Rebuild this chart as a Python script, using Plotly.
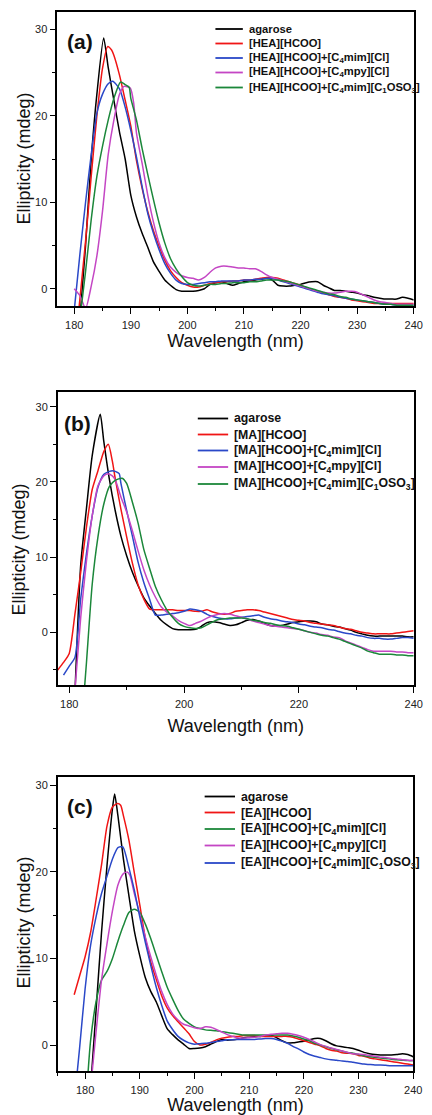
import plotly.graph_objects as go

W, H = 432, 1115

# ---------------- Panel (a) data ----------------
A_AGAROSE_X = [181, 182, 183, 184, 185.2] + list(range(186, 241))
A_AGAROSE_Y = [-3.5, 5, 15, 22.5, 29,
               25.6, 21.8, 18.1, 15.0, 10.8, 8.3, 6.4, 4.8, 3.1, 2.0,
               1.0, 0.4, -0.1, -0.3, -0.3, -0.3, -0.2, 0.0, 0.5, 0.7,
               0.8, 0.6, 0.4, 0.6, 0.8, 0.9, 1.0, 1.1, 1.2, 1.0,
               0.4, 0.3, 0.3, 0.4, 0.5, 0.7, 0.8, 0.8, 0.4, 0.1,
               -0.2, -0.2, -0.3, -0.4, -0.5, -0.7, -0.8, -1.0, -1.1, -1.2,
               -1.2, -1.2, -1.0, -1.1, -1.3]
A_HCOO_X = [180.8, 182, 183, 184, 185, 185.9, 186.6] + list(range(187, 241))
A_HCOO_Y = [-2.5, 5.5, 13, 20, 25.5, 28, 27.6,
            27.0, 24.7, 21.8, 18.8, 14.8, 11.6, 8.9, 6.7, 4.9, 3.3,
            2.1, 1.3, 0.7, 0.4, 0.2, 0.2, 0.4, 0.6, 0.7, 0.8,
            0.8, 0.9, 0.9, 1.0, 1.0, 1.1, 1.2, 1.3, 1.3, 1.2,
            1.0, 0.8, 0.6, 0.4, 0.1, -0.1, -0.3, -0.5, -0.7, -0.9,
            -1.0, -1.1, -1.3, -1.4, -1.5, -1.6, -1.7, -1.7, -1.7, -1.7,
            -1.7, -1.7, -1.7, -1.7]
A_C4MIM_X = [180, 181, 182, 183, 184, 185, 186, 186.8] + list(range(188, 241))
A_C4MIM_Y = [-2.5, 4, 10, 15.5, 20.3, 22.5, 23.7, 24,
             23.1, 21.0, 18.3, 15.2, 11.8, 8.7, 6.4, 4.5, 2.9, 1.8,
             1.0, 0.6, 0.5, 0.5, 0.6, 0.7, 0.8, 0.8, 0.9, 0.9,
             0.9, 0.9, 1.0, 1.0, 1.1, 1.1, 1.2, 1.2, 1.0, 0.8,
             0.6, 0.4, 0.2, 0.0, -0.2, -0.4, -0.6, -0.7, -0.8, -1.0,
             -1.1, -1.2, -1.3, -1.4, -1.5, -1.6, -1.7, -1.8, -1.8, -1.9,
             -1.9, -1.9, -1.9]
A_C4MPY_X = [180, 181, 182, 183, 184, 185, 186, 187, 188, 188.8, 189.9, 190.5] + list(range(191, 241))
A_C4MPY_Y = [0, -0.8, -2.3, 0.3, 3.8, 9, 15.5, 19.5, 22.5, 23.4, 23.2, 21.5,
             18.0, 14.5, 10.8, 7.7, 5.3, 3.6, 2.5, 1.9, 1.5, 1.3,
             1.2, 1.0, 1.3, 1.9, 2.4, 2.6, 2.6, 2.5, 2.4, 2.4,
             2.3, 2.3, 2.0, 1.6, 1.3, 1.1, 0.9, 0.7, 0.5, 0.3,
             0.1, -0.1, -0.3, -0.4, -0.5, -0.5, -0.4, -0.3, -0.3, -0.4,
             -0.7, -1.0, -1.3, -1.5, -1.6, -1.7, -1.8, -1.8, -1.8, -1.8]
A_C1OSO3_X = [181, 182, 183, 184, 185, 186, 187, 188.2, 189, 189.7, 190] + list(range(191, 241))
A_C1OSO3_Y = [-3.5, 2, 8, 13, 16.5, 19.5, 22, 23.9, 23.6, 23.3, 22,
              19.5, 16.2, 13.2, 10.3, 7.6, 5.3, 3.5, 2.3, 1.4, 0.7,
              0.4, 0.3, 0.4, 0.5, 0.5, 0.6, 0.6, 0.7, 0.7, 0.7,
              0.8, 0.8, 0.9, 1.0, 1.0, 1.0, 0.9, 0.8, 0.6, 0.4,
              0.2, 0.0, -0.2, -0.4, -0.6, -0.7, -0.9, -1.0, -1.2, -1.3,
              -1.4, -1.5, -1.6, -1.7, -1.8, -1.8, -1.9, -1.9, -1.9, -1.9]

# ---------------- Panel (b) data ----------------
B_AGAROSE_X = [181, 182, 183, 184, 185.4] + list(range(186, 241))
B_AGAROSE_Y = [-8, 9, 16.5, 23.5, 29,
               25.5, 20.3, 16.2, 12.8, 10.2, 8.0, 6.2, 4.6, 3.5, 2.5,
               1.6, 1.0, 0.5, 0.35, 0.35, 0.35, 0.4, 0.8, 1.3, 1.4,
               1.3, 1.1, 0.9, 1.0, 1.3, 1.6, 1.7, 1.5, 1.2, 0.9,
               0.8, 0.9, 1.1, 1.3, 1.4, 1.5, 1.5, 1.4, 1.1, 1.0,
               0.8, 0.7, 0.5, 0.3, 0.0, -0.2, -0.4, -0.5, -0.5, -0.5,
               -0.5, -0.5, -0.5, -0.6, -0.6]
B_HCOO_X = [178, 179, 180, 181, 182, 183, 184, 185, 186, 186.8, 187.5] + list(range(188, 241))
B_HCOO_Y = [-5, -4, -2.8, 2.5, 8, 14, 19, 21.5, 24, 25, 22.8,
            20.5, 16.4, 12.7, 9.2, 6.3, 4.4, 3.1, 3.0, 3.0, 3.0,
            3.0, 2.9, 2.9, 2.9, 2.8, 2.8, 3.0, 2.7, 2.5, 2.4,
            2.5, 2.8, 2.9, 3.0, 3.0, 2.9, 2.7, 2.5, 2.3, 2.1,
            1.9, 1.7, 1.6, 1.5, 1.3, 1.2, 1.1, 1.0, 0.9, 0.7,
            0.5, 0.4, 0.2, 0.0, -0.1, -0.2, -0.2, -0.2, -0.2, -0.1,
            0.0, 0.1, 0.2]
B_C4MIM_X = [179, 180, 181, 182, 183, 184, 185, 186, 187, 187.5, 188, 188.7] + list(range(189, 241))
B_C4MIM_Y = [-5.7, -4.5, -3.3, 4.5, 10.5, 15.5, 19.3, 21, 21.4, 21.5, 21.4, 21.1,
             19.8, 16.2, 12.8, 9.3, 6.6, 4.4, 2.3, 2.3, 2.4, 2.5,
             2.6, 2.8, 3.1, 3.0, 2.8, 2.4, 2.1, 1.9, 1.8, 1.8,
             1.9, 2.0, 2.1, 2.2, 2.3, 2.0, 1.8, 1.7, 1.5, 1.4,
             1.3, 1.1, 1.0, 0.8, 0.7, 0.6, 0.4, 0.3, 0.1, -0.1,
             -0.2, -0.4, -0.5, -0.7, -0.8, -0.8, -0.9, -0.9, -0.8, -0.7,
             -0.7, -0.8]
B_C4MPY_X = [181, 182, 183, 184, 185, 186, 186.7, 187.5] + list(range(188, 241))
B_C4MPY_Y = [-7.5, 2, 9.5, 15.5, 19.5, 20.8, 21.1, 20.8,
             20.3, 18.0, 16.0, 13.5, 10.8, 8.3, 6.3, 4.7, 3.4, 2.7,
             2.2, 1.6, 1.2, 0.9, 1.2, 1.5, 1.9, 2.2, 2.4, 2.5,
             2.4, 2.2, 2.0, 1.8, 1.5, 1.3, 1.1, 0.9, 0.8, 0.7,
             0.6, 0.5, 0.4, 0.2, 0.0, -0.1, -0.3, -0.4, -0.6, -0.7,
             -1.1, -1.4, -1.7, -2.0, -2.3, -2.5, -2.5, -2.5, -2.5, -2.6,
             -2.6, -2.7, -2.7]
B_C1OSO3_X = [182.5, 183, 184, 185, 186, 187, 188, 189.2, 190] + list(range(191, 241))
B_C1OSO3_Y = [-9, -4, 6.4, 12.7, 17, 19.4, 20.2, 20.5, 19.8,
              17.3, 14.5, 11.0, 8.5, 6.1, 4.4, 3.0, 2.0, 1.2, 0.8,
              0.6, 0.5, 0.6, 1.0, 1.4, 1.7, 1.8, 1.9, 1.9, 1.9,
              1.8, 1.6, 1.5, 1.3, 1.2, 1.0, 0.9, 0.8, 0.6, 0.4,
              0.2, 0.0, -0.2, -0.4, -0.5, -0.7, -0.9, -1.2, -1.5, -1.8,
              -2.1, -2.5, -2.7, -2.9, -2.9, -2.9, -3.0, -3.0, -3.1, -3.1]

# ---------------- Panel (c) data ----------------
C_AGAROSE_X = [181, 182, 183, 184, 185, 185.4, 186, 187] + list(range(188, 241))
C_AGAROSE_Y = [-5, 4, 13, 20.7, 27.3, 29, 26.5, 21.5,
               17.3, 13.2, 10.3, 7.8, 6.2, 5.0, 3.4, 1.9, 1.2, 0.6,
               0.1, -0.4, -0.4, -0.35, -0.2, 0.1, 0.4, 0.65, 0.55, 0.6,
               0.7, 0.85, 0.9, 0.95, 1.0, 1.05, 1.15, 0.85, 0.5, 0.25,
               0.25, 0.35, 0.45, 0.6, 0.75, 0.75, 0.5, 0.15, -0.1, -0.2,
               -0.3, -0.4, -0.6, -0.85, -1.0, -1.1, -1.15, -1.15, -1.15, -1.1,
               -1.0, -1.1, -1.35]
C_HCOO_X = [178, 179, 180, 181, 182, 183, 184, 185, 185.9, 186.5, 187] + list(range(188, 241))
C_HCOO_Y = [5.8, 8, 10.2, 13, 16.8, 20.8, 25.3, 27.5, 27.9, 27.7, 26.5,
            23.7, 19.9, 16.2, 12.4, 9.6, 7.6, 5.7, 4.3, 3.4, 2.7,
            2.0, 1.3, 0.4, 0.0, 0.1, 0.3, 0.6, 0.8, 0.9, 1.0,
            1.0, 1.1, 1.1, 1.1, 1.0, 1.0, 1.0, 1.0, 1.0, 1.0,
            0.9, 0.7, 0.5, 0.3, 0.1, -0.1, -0.4, -0.6, -0.7, -0.9,
            -0.95, -1.0, -1.2, -1.3, -1.5, -1.6, -1.7, -1.8, -1.9, -2.0,
            -2.1, -2.2, -2.3]
C_C4MIM_X = [180.5, 181, 182, 183, 184, 185, 186, 187, 188, 189] + list(range(190, 241))
C_C4MIM_Y = [-3.5, 0.5, 5, 7.5, 8.5, 10, 12, 13.8, 15.3, 15.7,
             15.3, 14.0, 12.3, 10.4, 8.5, 6.7, 5.3, 4.0, 3.0, 2.5,
             2.1, 1.9, 1.75, 1.7, 1.65, 1.55, 1.45, 1.35, 1.25, 1.15,
             1.15, 1.15, 1.15, 1.15, 1.15, 1.15, 1.15, 1.15, 1.05, 0.9,
             0.7, 0.5, 0.2, 0.0, -0.2, -0.4, -0.55, -0.7, -0.85, -0.95,
             -1.1, -1.25, -1.35, -1.4, -1.5, -1.55, -1.65, -1.7, -1.75, -1.8,
             -1.8]
C_C4MPY_X = [181, 182, 183, 184, 185, 186, 187, 187.7, 188.2, 189] + list(range(190, 241))
C_C4MPY_Y = [-5, 1.5, 7.5, 11.7, 15.5, 18.5, 19.8, 20, 19.6, 17.5,
             15.1, 12.5, 10.2, 8.1, 6.2, 4.7, 3.6, 2.9, 2.4, 2.2,
             2.0, 1.9, 2.1, 2.05, 1.8, 1.5, 1.2, 1.0, 0.8, 0.8,
             0.85, 0.9, 1.0, 1.15, 1.25, 1.3, 1.35, 1.35, 1.25, 1.1,
             0.9, 0.65, 0.35, 0.05, -0.15, -0.35, -0.5, -0.7, -0.85, -1.0,
             -1.05, -1.1, -1.2, -1.3, -1.4, -1.45, -1.55, -1.6, -1.7, -1.75,
             -1.8]
C_C1OSO3_X = [178.5, 179, 180, 181, 182, 183, 184, 185, 186, 186.9] + list(range(188, 241))
C_C1OSO3_Y = [-3.5, -0.3, 6.5, 11.5, 14.8, 17.5, 19.5, 21.5, 22.8, 22.9,
              20.5, 17.9, 14.8, 11.9, 9.2, 6.7, 4.6, 2.8, 1.8, 1.0,
              0.55, 0.25, 0.1, 0.15, 0.2, 0.3, 0.4, 0.5, 0.6, 0.6,
              0.65, 0.65, 0.65, 0.65, 0.7, 0.75, 0.75, 0.65, 0.45, 0.2,
              -0.15, -0.45, -0.8, -1.1, -1.3, -1.45, -1.6, -1.7, -1.75, -1.85,
              -1.9, -2.0, -2.1, -2.2, -2.25, -2.3, -2.3, -2.35, -2.4, -2.4,
              -2.4, -2.4, -2.4]

# ---------------- labels / colours ----------------
BLACK, RED, BLUE, MAGENTA, GREEN = "#000000", "#f01515", "#2a48c8", "#c446c4", "#1b873a"

A_NAMES = ["agarose", "[HEA][HCOO]", "[HEA][HCOO]+[C<sub>4</sub>mim][Cl]",
           "[HEA][HCOO]+[C<sub>4</sub>mpy][Cl]", "[HEA][HCOO]+[C<sub>4</sub>mim][C<sub>1</sub>OSO<sub>3</sub>]"]
B_NAMES = ["agarose", "[MA][HCOO]", "[MA][HCOO]+[C<sub>4</sub>mim][Cl]",
           "[MA][HCOO]+[C<sub>4</sub>mpy][Cl]", "[MA][HCOO]+[C<sub>4</sub>mim][C<sub>1</sub>OSO<sub>3</sub>]"]
C_NAMES = ["agarose", "[EA][HCOO]", "[EA][HCOO]+[C<sub>4</sub>mim][Cl]",
           "[EA][HCOO]+[C<sub>4</sub>mpy][Cl]", "[EA][HCOO]+[C<sub>4</sub>mim][C<sub>1</sub>OSO<sub>3</sub>]"]

A_SERIES = [(A_AGAROSE_X, A_AGAROSE_Y, BLACK), (A_HCOO_X, A_HCOO_Y, RED), (A_C4MIM_X, A_C4MIM_Y, BLUE),
            (A_C4MPY_X, A_C4MPY_Y, MAGENTA), (A_C1OSO3_X, A_C1OSO3_Y, GREEN)]
B_SERIES = [(B_AGAROSE_X, B_AGAROSE_Y, BLACK), (B_HCOO_X, B_HCOO_Y, RED), (B_C4MIM_X, B_C4MIM_Y, BLUE),
            (B_C4MPY_X, B_C4MPY_Y, MAGENTA), (B_C1OSO3_X, B_C1OSO3_Y, GREEN)]
C_SERIES = [(C_AGAROSE_X, C_AGAROSE_Y, BLACK), (C_HCOO_X, C_HCOO_Y, RED), (C_C4MIM_X, C_C4MIM_Y, GREEN),
            (C_C4MPY_X, C_C4MPY_Y, MAGENTA), (C_C1OSO3_X, C_C1OSO3_Y, BLUE)]

FONT = "Liberation Sans, Arial, sans-serif"

def px_x(p):
    return p / W

def px_y(p):
    return 1 - p / H

PANELS = [
    dict(series=A_SERIES, names=A_NAMES, box=(58.5, 422.5, 12, 306), xr=[177, 240], yr=[-2, 32],
         xd=10, xm=5, leg=(220, 248, 252, [29, 43.5, 58, 72.5, 87.5]), lab=("(a)", 81.5, 42),
         legfs=11.2, ytitle=(25, 158), xstand=4),
    dict(series=B_SERIES, names=B_NAMES, box=(59, 422.5, 391.7, 685), xr=[178, 240], yr=[-7, 32],
         xd=20, xm=10, leg=(202, 233, 237, [418.5, 434.5, 450.5, 467, 484]), lab=("(b)", 79, 423),
         legfs=12.3, ytitle=(19, 550), xstand=10),
    dict(series=C_SERIES, names=C_NAMES, box=(59, 422, 776.7, 1071), xr=[175, 240], yr=[-3, 31],
         xd=10, xm=5, leg=(209, 240, 244, [796.5, 812.5, 829, 845.5, 863]), lab=("(c)", 81.5, 806),
         legfs=12.3, ytitle=(25, 922), xstand=2),
]

fig = go.Figure()
annotations = []
shapes = []

for i, p in enumerate(PANELS):
    n = "" if i == 0 else str(i + 1)
    l, r, t, b = p["box"]
    for (xs, ys, col), nm in zip(p["series"], p["names"]):
        fig.add_trace(go.Scatter(x=xs, y=ys, mode="lines", name=nm, showlegend=False,
                                 line=dict(color=col, width=1.5, shape="spline", smoothing=0.6),
                                 xaxis="x" + n, yaxis="y" + n))
    axcommon = dict(showline=True, linecolor="black", linewidth=1.5, mirror=True,
                    ticks="outside", ticklen=6, tickwidth=1.2, tickcolor="black",
                    showgrid=False, zeroline=False,
                    tickfont=dict(family=FONT, size=11, color="#222"))
    fig.layout["xaxis" + n] = dict(axcommon, domain=[px_x(l), px_x(r)], range=p["xr"],
                                   anchor="y" + n, tick0=180, dtick=p["xd"], ticklabelstandoff=2,
                                   minor=dict(ticks="outside", ticklen=3.5, tickwidth=1.2,
                                              tickcolor="black", dtick=p["xm"], tick0=180),
                                   title=dict(text="Wavelength (nm)", standoff=p["xstand"],
                                              font=dict(family=FONT, size=18, color="#111")))
    fig.layout["yaxis" + n] = dict(axcommon, domain=[px_y(b), px_y(t)], range=p["yr"],
                                   anchor="x" + n, tick0=0, dtick=10,
                                   minor=dict(ticks="outside", ticklen=3.5, tickwidth=1.2,
                                              tickcolor="black", dtick=5, tick0=0))
    yx, yy0 = p["ytitle"]
    annotations.append(dict(text="Ellipticity (mdeg)", xref="paper", yref="paper",
                            x=px_x(yx), y=px_y(yy0), xanchor="center", yanchor="middle",
                            textangle=-90, showarrow=False,
                            font=dict(family=FONT, size=18, color="#111")))
    # legend (drawn manually to match row spacing)
    lx0, lx1, tx, rows = p["leg"]
    for (xs, ys, col), nm, yy in zip(p["series"], p["names"], rows):
        shapes.append(dict(type="line", xref="paper", yref="paper",
                           x0=px_x(lx0), x1=px_x(lx1), y0=px_y(yy), y1=px_y(yy),
                           line=dict(color=col, width=1.8)))
        annotations.append(dict(text="<b>" + nm + "</b>", xref="paper", yref="paper",
                                x=px_x(tx), y=px_y(yy), xanchor="left", yanchor="middle",
                                showarrow=False,
                                font=dict(family=FONT, size=p["legfs"], color="#111")))
    lt, lxc, lyc = p["lab"]
    annotations.append(dict(text="<b>" + lt + "</b>", xref="paper", yref="paper",
                            x=px_x(lxc), y=px_y(lyc), xanchor="center", yanchor="middle",
                            showarrow=False, font=dict(family=FONT, size=21, color="#111")))

fig.update_layout(width=W, height=H, margin=dict(l=0, r=0, t=0, b=0),
                  paper_bgcolor="white", plot_bgcolor="white",
                  annotations=annotations, shapes=shapes, showlegend=False)

fig.write_html("out.html")
